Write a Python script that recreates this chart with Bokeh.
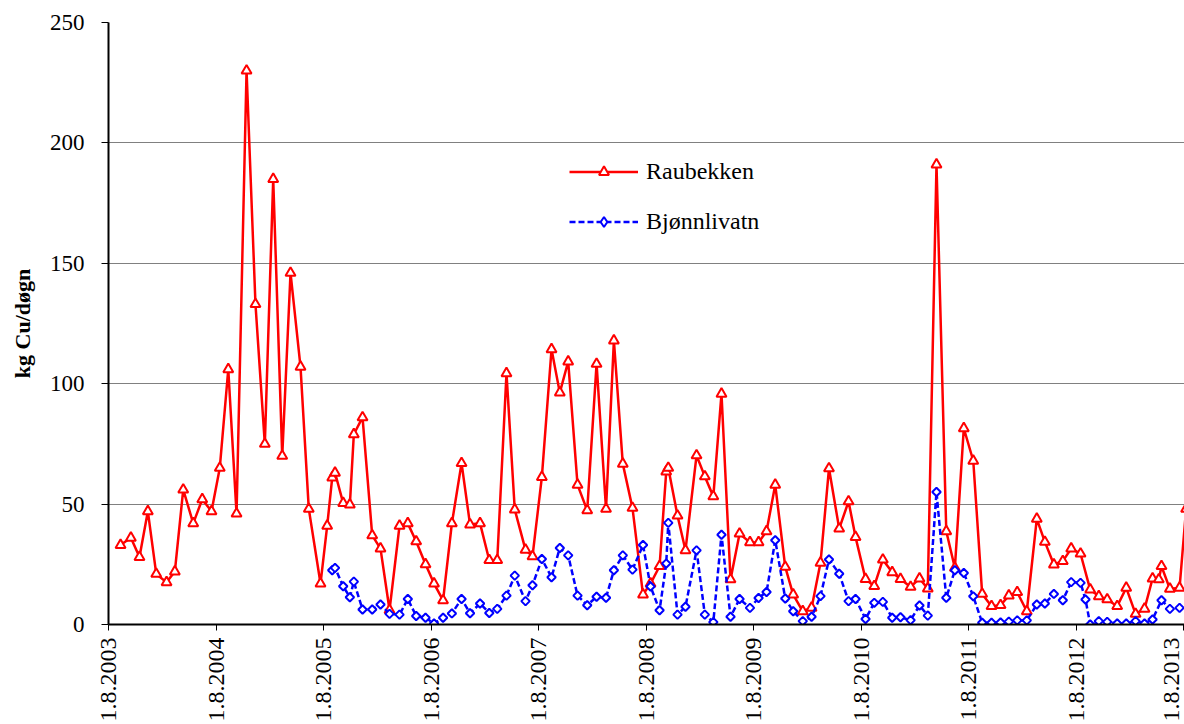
import numpy as np
from bokeh.plotting import figure
from bokeh.models import (Range1d, FixedTicker, CustomJSTickFormatter, Legend,
                          LegendItem, LinearAxis)
from bokeh.embed import file_html
from bokeh.resources import INLINE

# ---- data -------------------------------------------------------------
AUG1 = 212 / 365                      # fraction of a year at 1 August
TICK_YEARS = list(range(2003, 2014))  # x tick labels "1.8.<year>"
Y_TICKS = [0, 50, 100, 150, 200, 250]
X_START = 2003 + AUG1
X_END = 2013.590

# Raubekken: sampling time (decimal year) and load (kg Cu/døgn)
RAU_T = [2003.693, 2003.789, 2003.869, 2003.947, 2004.025, 2004.121, 2004.198, 2004.276,
         2004.369, 2004.453, 2004.539, 2004.616, 2004.695, 2004.772, 2004.865, 2004.948,
         2005.035, 2005.113, 2005.197, 2005.274, 2005.367, 2005.444, 2005.553, 2005.615,
         2005.662, 2005.688, 2005.764, 2005.826, 2005.863, 2005.944, 2006.034, 2006.111,
         2006.195, 2006.288, 2006.365, 2006.443, 2006.530, 2006.609, 2006.693, 2006.775,
         2006.865, 2006.944, 2007.037, 2007.123, 2007.197, 2007.283, 2007.360, 2007.460,
         2007.525, 2007.612, 2007.702, 2007.779, 2007.857, 2007.944, 2008.034, 2008.121,
         2008.209, 2008.282, 2008.365, 2008.455, 2008.553, 2008.623, 2008.707, 2008.769,
         2008.788, 2008.874, 2008.948, 2009.051, 2009.128, 2009.207, 2009.283, 2009.367,
         2009.451, 2009.548, 2009.628, 2009.702, 2009.783, 2009.876, 2009.950, 2010.039,
         2010.121, 2010.204, 2010.283, 2010.378, 2010.465, 2010.530, 2010.623, 2010.704,
         2010.784, 2010.871, 2010.948, 2011.042, 2011.125, 2011.202, 2011.283, 2011.374,
         2011.454, 2011.537, 2011.625, 2011.708, 2011.795, 2011.879, 2011.956, 2012.034,
         2012.123, 2012.216, 2012.291, 2012.375, 2012.458, 2012.536, 2012.623, 2012.713,
         2012.793, 2012.871, 2012.964, 2013.048, 2013.135, 2013.218, 2013.293, 2013.351,
         2013.376, 2013.454, 2013.544, 2013.605]
RAU_V = [33, 36, 28, 47, 21, 17.5, 22, 56,
         42, 52, 47, 65, 106, 46, 230, 133,
         75, 185, 70, 146, 107, 48, 17, 41,
         61, 63, 50.4, 49.8, 79, 86, 37, 31.5,
         6, 41, 42, 34.5, 25, 17, 10, 42,
         67, 41.5, 42, 26.7, 26.7, 104.3, 47.7, 31,
         28.3, 61.2, 114.3, 96.3, 109.2, 58, 47.4, 108.2,
         48, 117.9, 66.7, 48.4, 12.4, 17, 24.2, 63.5,
         65, 45.2, 30.8, 70.2, 61.5, 53.2, 95.8, 18.7,
         37.7, 34.1, 34.1, 38.7, 58, 23.9, 12.4, 5.5,
         6.9, 25.6, 64.8, 39.8, 51.1, 36.3, 18.9, 15.9,
         26.9, 21.7, 18.9, 15.6, 19.1, 14.9, 191, 38.7,
         23.5, 81.5, 68, 12.7, 7.6, 8, 12, 13.4,
         5.5, 43.9, 34.3, 24.9, 26.3, 31.5, 29.4, 14.5,
         11.7, 10.4, 7.6, 15.2, 4.4, 6.5, 19.1, 18.7,
         24.2, 14.8, 15.2, 48]

# Bjønnlivatn
BJO_T = [2005.662, 2005.688, 2005.764, 2005.826, 2005.863, 2005.944, 2006.034, 2006.111,
         2006.195, 2006.288, 2006.365, 2006.443, 2006.530, 2006.609, 2006.693, 2006.775,
         2006.865, 2006.944, 2007.037, 2007.123, 2007.197, 2007.283, 2007.360, 2007.460,
         2007.525, 2007.612, 2007.702, 2007.779, 2007.857, 2007.944, 2008.034, 2008.121,
         2008.209, 2008.282, 2008.365, 2008.455, 2008.553, 2008.623, 2008.707, 2008.769,
         2008.788, 2008.874, 2008.948, 2009.051, 2009.128, 2009.207, 2009.283, 2009.367,
         2009.451, 2009.548, 2009.628, 2009.702, 2009.783, 2009.876, 2009.950, 2010.039,
         2010.121, 2010.204, 2010.283, 2010.378, 2010.465, 2010.530, 2010.623, 2010.704,
         2010.784, 2010.871, 2010.948, 2011.042, 2011.125, 2011.202, 2011.283, 2011.374,
         2011.454, 2011.537, 2011.625, 2011.708, 2011.795, 2011.879, 2011.956, 2012.034,
         2012.123, 2012.216, 2012.291, 2012.375, 2012.458, 2012.536, 2012.623, 2012.669,
         2012.713, 2012.793, 2012.871, 2012.964, 2013.048, 2013.135, 2013.218, 2013.293,
         2013.376, 2013.454, 2013.544]
BJO_V = [22.5, 23.5, 15.9, 11.3, 17.8, 6.2, 6.2, 8.3,
         4.4, 4.1, 10.6, 3.5, 2.8, 0.4, 2.8, 4.6,
         10.6, 4.7, 8.7, 4.8, 6.5, 12, 20.3, 9.7,
         16.3, 27.2, 19.6, 31.8, 28.7, 12, 8, 11.5,
         11.1, 22.5, 28.7, 22.8, 33, 15.8, 5.9, 25.3,
         42.2, 4.1, 7.4, 30.8, 4.1, 1, 37.3, 3.2,
         10.6, 6.9, 11, 13.5, 35, 10.8, 5.5, 1.4,
         3.2, 11.8, 27, 21.1, 9.7, 10.6, 2.3, 9,
         9.4, 2.8, 3, 1.8, 7.9, 3.7, 55, 11.1,
         22.5, 21.4, 11.7, 0.7, 0.7, 0.8, 1.2, 1.7,
         1.7, 8.3, 8.7, 12.7, 10.1, 17.6, 17.3, 10.4,
         0, 1.4, 1.1, 0.4, 0.4, 1.4, 0.4, 2.1,
         10.1, 6.5, 6.9]

FONT = "Liberation Serif"
W, H = 1184, 724

# ---- figure -----------------------------------------------------------
p = figure(width=W, height=H, output_backend="svg", toolbar_location=None,
           x_range=Range1d(X_START, X_END), y_range=Range1d(0, 250),
           min_border_left=108, min_border_right=0, min_border_top=22,
           min_border_bottom=99)
p.outline_line_color = None
p.background_fill_color = "white"
p.border_fill_color = "white"

p.xgrid.visible = False
p.ygrid.grid_line_color = "#808080"
p.ygrid.grid_line_width = 1

# y axis
p.yaxis.ticker = FixedTicker(ticks=Y_TICKS)
p.yaxis.minor_tick_line_color = None
p.yaxis.major_tick_out = 7
p.yaxis.major_tick_in = 0
p.yaxis.major_tick_line_color = "black"
p.yaxis.axis_line_width = 2
p.yaxis.axis_line_color = "black"
p.yaxis.major_label_text_font = FONT
p.yaxis.major_label_text_font_size = "23px"
p.yaxis.major_label_text_color = "black"
p.yaxis.major_label_standoff = 17
p.yaxis.axis_label = "kg Cu/døgn"
p.yaxis.axis_label_text_font = FONT
p.yaxis.axis_label_text_font_style = "bold"
p.yaxis.axis_label_text_font_size = "22px"
p.yaxis.axis_label_text_color = "black"
p.yaxis.axis_label_standoff = 12

# x axis: line + tick marks on 1 August of each year (labels on a second axis)
tick_pos = [y + AUG1 for y in TICK_YEARS]
xa = p.xaxis[0]
xa.ticker = FixedTicker(ticks=tick_pos)
xa.formatter = CustomJSTickFormatter(code="return '';")
xa.minor_tick_line_color = None
xa.major_tick_out = 6
xa.major_tick_in = 0
xa.major_tick_line_color = "black"
xa.axis_line_width = 2
xa.axis_line_color = "black"
xa.major_label_standoff = 0

# label axis: same positions, the last label nudged left so it stays inside the page
label_pos = tick_pos[:-1] + [tick_pos[-1] - 0.11]
lab = LinearAxis(ticker=FixedTicker(ticks=label_pos),
                 formatter=CustomJSTickFormatter(
                     code="return '1.8.' + Math.floor(tick + 0.001);"),
                 axis_line_color=None, major_tick_line_color=None,
                 minor_tick_line_color=None, major_tick_out=0, major_tick_in=0,
                 minor_tick_out=0, minor_tick_in=0,
                 major_label_orientation=np.pi / 2, major_label_standoff=7,
                 major_label_text_font=FONT, major_label_text_font_size="24px",
                 major_label_text_color="black")
p.add_layout(lab, "below")

# series
r_line = p.line(RAU_T, RAU_V, line_color="#FF0000", line_width=2.5)
r_mark = p.scatter(RAU_T, RAU_V, marker="triangle", size=10, fill_color="white",
                   line_color="#FF0000", line_width=2)
b_line = p.line(BJO_T, BJO_V, line_color="#0000FF", line_width=2.5, line_dash="6 3")
# diamond glyph used for the legend symbol (legend glyphs ignore marker angle);
# in the plot it is covered by the rotated-square markers drawn on top of it
b_leg = p.scatter(BJO_T, BJO_V, marker="diamond", size=7, fill_color="white",
                  line_color="#0000FF", line_width=2)
b_mark = p.scatter(BJO_T, BJO_V, marker="square", size=6, angle=np.pi / 4,
                   fill_color="white", line_color="#0000FF", line_width=2)

legend = Legend(items=[LegendItem(label="Raubekken", renderers=[r_line, r_mark]),
                       LegendItem(label="Bjønnlivatn", renderers=[b_line, b_leg])],
                location=(461, 388), orientation="vertical",
                padding=0, margin=0, spacing=20,
                glyph_width=69, glyph_height=25, label_height=30,
                label_standoff=8,
                label_text_font=FONT, label_text_font_size="24px",
                label_text_color="black",
                border_line_color=None, background_fill_alpha=0)
p.add_layout(legend)

open("out.html", "w").write(file_html(p, INLINE))
